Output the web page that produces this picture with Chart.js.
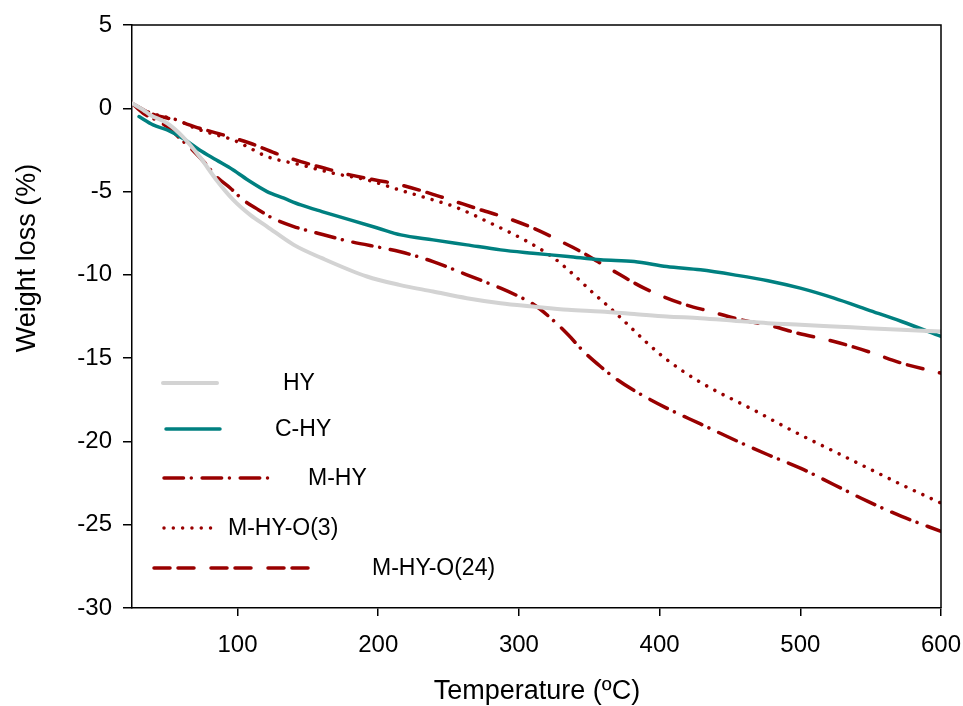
<!DOCTYPE html>
<html>
<head>
<meta charset="utf-8">
<script src="https://cdn.jsdelivr.net/npm/chart.js@4"></script>
<style>
  html, body { margin: 0; padding: 0; background: #fff; }
  #wrap { width: 963px; height: 706px; }
</style>
</head>
<body>
<div id="wrap"><canvas id="tga" width="963" height="706"></canvas></div>
<script>
// TGA curves (temperature in ºC, weight loss in %)
const hyT = [25, 33, 38, 50, 61, 73, 85, 97, 109, 121, 140, 160, 192, 215, 239, 263, 287, 310, 335, 358, 382, 405, 429, 453, 477, 500, 524, 548, 572, 600];
const hyW = [0.3, -0.1, -0.4, -0.9, -1.7, -2.9, -4.3, -5.5, -6.4, -7.1, -8.2, -9.0, -10.1, -10.6, -11.0, -11.4, -11.7, -11.9, -12.1, -12.2, -12.35, -12.5, -12.6, -12.75, -12.9, -13.0, -13.1, -13.2, -13.3, -13.4];

const chyT = [30, 40, 50, 61, 73, 85, 97, 109, 121, 133, 145, 160, 180, 200, 216, 239, 263, 287, 310, 335, 358, 382, 405, 429, 453, 477, 500, 524, 548, 572, 600];
const chyW = [-0.5, -1.0, -1.3, -1.8, -2.5, -3.1, -3.7, -4.4, -5.0, -5.4, -5.8, -6.2, -6.7, -7.2, -7.6, -7.9, -8.2, -8.5, -8.7, -8.9, -9.1, -9.2, -9.5, -9.7, -10.0, -10.35, -10.8, -11.4, -12.1, -12.8, -13.7];

const mhyT = [25, 33, 42, 50, 59, 68, 77, 85, 95, 104, 115, 125, 140, 157, 180, 204, 215, 239, 263, 287, 300, 310, 322, 335, 346, 358, 370, 382, 405, 429, 453, 477, 500, 524, 548, 572, 600];
const mhyW = [0.3, -0.3, -0.7, -1.1, -1.8, -2.5, -3.3, -4.1, -4.8, -5.5, -6.1, -6.6, -7.1, -7.5, -8.0, -8.4, -8.6, -9.2, -10.0, -10.8, -11.3, -11.75, -12.55, -13.6, -14.6, -15.5, -16.3, -16.95, -18.0, -18.95, -19.9, -20.8, -21.6, -22.6, -23.6, -24.5, -25.4];

const o3T = [25, 33, 43, 57, 70, 85, 97, 109, 121, 145, 168, 192, 215, 239, 254, 280, 306, 325, 339, 351, 365, 377, 390, 403, 416, 429, 443, 456, 470, 483, 500, 524, 548, 572, 600];
const o3W = [0.3, -0.1, -0.4, -0.7, -1.2, -1.6, -1.9, -2.4, -2.9, -3.4, -3.9, -4.3, -4.9, -5.5, -5.9, -6.9, -8.0, -9.0, -10.0, -10.95, -12.0, -12.95, -14.0, -14.95, -15.75, -16.45, -17.1, -17.65, -18.25, -18.85, -19.6, -20.6, -21.6, -22.6, -23.7];

const o24T = [25, 38, 55, 73, 90, 109, 127, 145, 162, 180, 198, 216, 244, 273, 292, 313, 330, 346, 356, 372, 389, 415, 436, 458, 481, 498, 524, 548, 572, 600];
const o24W = [0.3, -0.3, -0.7, -1.2, -1.6, -2.1, -2.7, -3.2, -3.6, -4.0, -4.3, -4.6, -5.3, -6.1, -6.6, -7.3, -8.0, -8.7, -9.2, -10.0, -10.8, -11.7, -12.2, -12.7, -13.1, -13.5, -14.0, -14.6, -15.3, -15.9];

const seriesNames = ['HY', 'C-HY', 'M-HY', 'M-HY-O(3)', 'M-HY-O(24)'];
const yTicks = [5, 0, -5, -10, -15, -20, -25, -30];
const xTicks = [100, 200, 300, 400, 500, 600];

const RED = '#990000';

function pts(xs, ys) {
  return xs.map((x, i) => ({ x: x, y: ys[i] }));
}

const styles = [
  { color: '#d3d3d3', width: 4, dash: [] },
  { color: '#008080', width: 3.5, dash: [] },
  { color: RED, width: 3.5, dash: [19.5, 7.8, 0.01, 10.8] },
  { color: RED, width: 3.5, dash: [0.01, 9.3] },
  { color: RED, width: 3.5, dash: [16, 8, 16, 17] },
];

const dataSets = [pts(hyT, hyW), pts(chyT, chyW), pts(mhyT, mhyW), pts(o3T, o3W), pts(o24T, o24W)];

// legend rows: line start/end, row y, label x (free placement as in the source figure)
const legendRows = [
  { x0: 163, x1: 217, y: 383, tx: 283 },
  { x0: 166, x1: 220, y: 429, tx: 275 },
  { x0: 164, x1: 271, y: 478, tx: 308 },
  { x0: 164, x1: 213, y: 528, tx: 228 },
  { x0: 154, x1: 310, y: 568, tx: 372 },
];

const FONT = '"Liberation Sans", Arial, sans-serif';

const decorPlugin = {
  id: 'decor',
  afterDraw(chart) {
    const ctx = chart.ctx;
    const a = chart.chartArea;
    ctx.save();
    // top + right frame
    ctx.strokeStyle = '#000';
    ctx.lineWidth = 1.5;
    ctx.beginPath();
    ctx.moveTo(a.left, a.top);
    ctx.lineTo(a.right, a.top);
    ctx.lineTo(a.right, a.bottom);
    ctx.stroke();

    // legend
    ctx.font = '23px ' + FONT;
    ctx.textBaseline = 'middle';
    ctx.textAlign = 'left';
    legendRows.forEach((r, i) => {
      const s = styles[i];
      ctx.strokeStyle = s.color;
      ctx.lineWidth = s.width;
      ctx.lineCap = 'round';
      ctx.setLineDash(s.dash);
      ctx.beginPath();
      ctx.moveTo(r.x0, r.y);
      ctx.lineTo(r.x1, r.y);
      ctx.stroke();
      ctx.setLineDash([]);
      ctx.fillStyle = '#000';
      ctx.fillText(seriesNames[i], r.tx, r.y + 1);
    });

    // axis titles
    ctx.font = '27px ' + FONT;
    ctx.textAlign = 'center';
    ctx.fillText('Temperature (ºC)', 537, 692);
    ctx.translate(28, 258);
    ctx.rotate(-Math.PI / 2);
    ctx.fillText('Weight loss (%)', 0, 0);
    ctx.restore();
  },
};

new Chart(document.getElementById('tga'), {
  type: 'line',
  data: {
    datasets: dataSets.map((d, i) => ({
      label: seriesNames[i],
      data: d,
      borderColor: styles[i].color,
      backgroundColor: styles[i].color,
      borderWidth: styles[i].width,
      borderDash: styles[i].dash,
      borderCapStyle: 'round',
      borderJoinStyle: 'round',
      pointRadius: 0,
      fill: false,
      cubicInterpolationMode: 'monotone',
    })),
  },
  options: {
    responsive: false,
    animation: false,
    layout: { padding: { top: 25, right: 22, left: 0, bottom: 0 } },
    plugins: { legend: { display: false }, tooltip: { enabled: false } },
    scales: {
      x: {
        type: 'linear',
        min: 25,
        max: 600,
        afterFit(scale) {
          scale.height = 98;
          scale.paddingLeft = 0;
          scale.paddingRight = 0;
        },
        afterBuildTicks(scale) { scale.ticks = xTicks.map((v) => ({ value: v })); },
        ticks: { color: '#000', font: { family: FONT, size: 24 }, padding: 15, maxRotation: 0 },
        grid: { drawOnChartArea: false, drawTicks: true, tickLength: 8, color: '#000', lineWidth: 1.5 },
        border: { display: true, color: '#000', width: 1.5 },
      },
      y: {
        type: 'linear',
        min: -30,
        max: 5,
        afterFit(scale) {
          scale.width = 132;
          scale.paddingTop = 0;
          scale.paddingBottom = 0;
        },
        afterBuildTicks(scale) { scale.ticks = yTicks.map((v) => ({ value: v })); },
        ticks: { color: '#000', font: { family: FONT, size: 24 }, padding: 11 },
        grid: { drawOnChartArea: false, drawTicks: true, tickLength: 9, color: '#000', lineWidth: 1.5 },
        border: { display: true, color: '#000', width: 1.5 },
      },
    },
  },
  plugins: [decorPlugin],
});
</script>
</body>
</html>
